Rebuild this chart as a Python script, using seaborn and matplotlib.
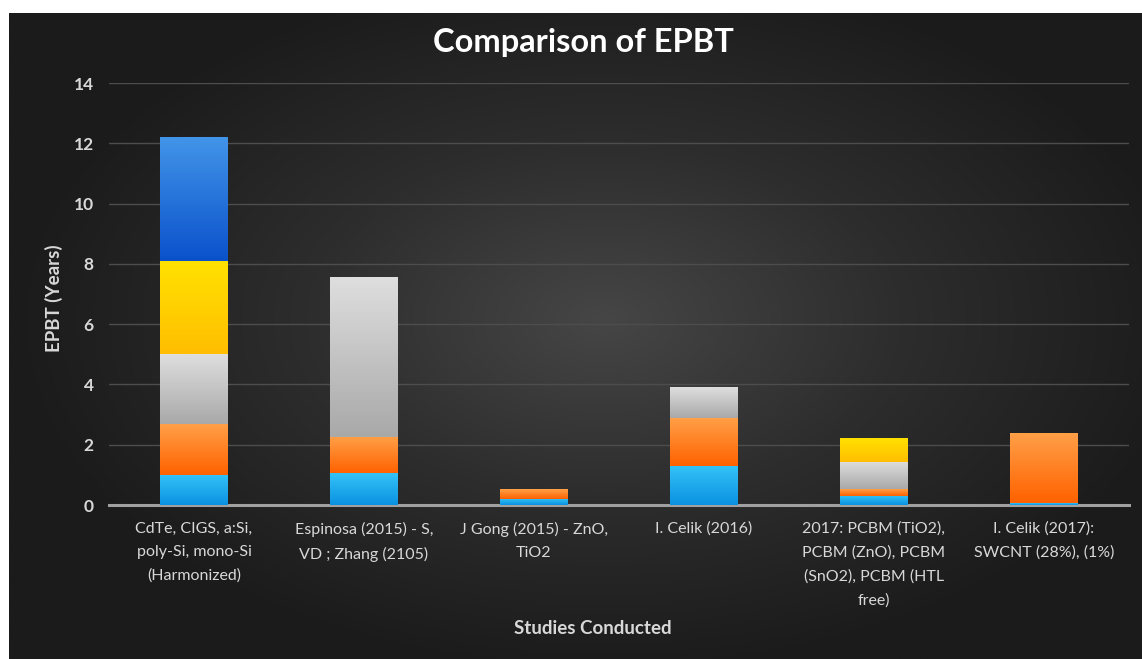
import numpy as np
import pandas as pd
import seaborn as sns
import matplotlib.pyplot as plt
from matplotlib.colors import LinearSegmentedColormap

studies = [
    "CdTe, CIGS, a:Si,\npoly-Si, mono-Si\n(Harmonized)",
    "Espinosa (2015) - S,\nVD ; Zhang (2105)",
    "J Gong (2015) - ZnO,\nTiO2",
    "I. Celik (2016)",
    "2017: PCBM (TiO2),\nPCBM (ZnO), PCBM\n(SnO2), PCBM (HTL\nfree)",
    "I. Celik (2017):\nSWCNT (28%), (1%)",
]
series_names = ["s1", "s2", "s3", "s4", "s5"]
s1 = [1.0, 1.05, 0.2, 1.3, 0.3, 0.05]
s2 = [1.7, 1.2, 0.33, 1.6, 0.23, 2.35]
s3 = [2.3, 5.3, 0.0, 1.0, 0.9, 0.0]
s4 = [3.1, 0.0, 0.0, 0.0, 0.8, 0.0]
s5 = [4.1, 0.0, 0.0, 0.0, 0.0, 0.0]

# gradient (top, bottom) colours per series
grads = {
    "s1": ("#35c2f7", "#0a92e2"),
    "s2": ("#ffa048", "#ff6200"),
    "s3": ("#dedede", "#a9a9a9"),
    "s4": ("#ffe200", "#ffbe00"),
    "s5": ("#4294e8", "#0a52cc"),
}

sns.set_theme(style="dark")
plt.rcParams["font.family"] = ["Lato", "DejaVu Sans"]

fig = plt.figure(figsize=(11.42, 6.59), dpi=100, facecolor="white")

# dark radial background
bg = fig.add_axes([9 / 1142, 0, 1 - 9 / 1142, (659 - 13) / 659])
bg.set_axis_off()
yy, xx = np.mgrid[-1:1:300j, -1:1:500j]
r = np.sqrt(((xx - 0.05) / 1.05) ** 2 + ((yy + 0.05) / 1.1) ** 2)
bgmap = LinearSegmentedColormap.from_list("bg", ["#464646", "#2d2d2d", "#1b1b1b"])
bg.imshow(np.clip(r, 0, 1), cmap=bgmap, aspect="auto", vmin=0, vmax=1)

ax = fig.add_axes([109 / 1142, (659 - 505) / 659, 1020 / 1142, 422 / 659])
ax.set_facecolor("none")

vals = {"s1": s1, "s2": s2, "s3": s3, "s4": s4, "s5": s5}
df = pd.DataFrame({"study": studies})
cum = np.zeros(len(studies))
bottoms = {}
for s in series_names:
    bottoms[s] = cum.copy()
    cum = cum + np.array(vals[s])
    df[s] = cum

# draw stacked bars tallest-first, then shade each with a vertical gradient
for s in reversed(series_names):
    n_before = len(ax.patches)
    sns.barplot(data=df, x="study", y=s, color=grads[s][0], width=0.4,
                ax=ax, saturation=1, errorbar=None, linewidth=0)
    cmap = LinearSegmentedColormap.from_list(s, [grads[s][1], grads[s][0]])
    for i, p in enumerate(ax.patches[n_before:]):
        top = p.get_height()
        bot = bottoms[s][i]
        if top - bot <= 0:
            p.set_visible(False)
            continue
        p.set_facecolor("none")
        x0 = p.get_x()
        w = p.get_width()
        im = ax.imshow(np.linspace(0, 1, 64).reshape(-1, 1), cmap=cmap,
                       origin="lower", aspect="auto",
                       extent=(x0, x0 + w, bot, top), zorder=2)
        p.set_y(bot)
        p.set_height(top - bot)
        im.set_clip_path(p)

ax.set_xlim(-0.5, 5.5)
ax.set_ylim(0, 14)
ax.set_yticks(range(0, 15, 2))
ax.grid(axis="y", color="#4d4d4d", linewidth=1)
ax.grid(axis="x", visible=False)
ax.set_axisbelow(True)
for side in ["top", "right", "left"]:
    ax.spines[side].set_visible(False)
ax.spines["bottom"].set_color("#a0a0a0")
ax.spines["bottom"].set_linewidth(2.2)
ax.spines["bottom"].set_zorder(1.5)
ax.tick_params(axis="both", length=0, colors="#d8d8d8")
ax.tick_params(axis="x", pad=12, labelsize=11.5)
ax.tick_params(axis="y", pad=11, labelsize=12.5)
for t in ax.get_xticklabels():
    t.set_linespacing(1.85)
for t in ax.get_yticklabels():
    t.set_fontweight("bold")
ax.set_xlabel("Studies Conducted", fontsize=13.5, fontweight="bold",
              color="#d8d8d8")
ax.set_ylabel("EPBT (Years)", fontsize=13.5, fontweight="bold",
              color="#d8d8d8")
ax.xaxis.set_label_coords(0.474, -0.272)
ax.yaxis.set_label_coords(-0.045, 0.49)
fig.text(0.511, 0.936, "Comparison of EPBT", ha="center", va="center",
         fontsize=23.5, fontweight="bold", color="white")

fig.savefig("out.png", dpi=100, facecolor="white")
